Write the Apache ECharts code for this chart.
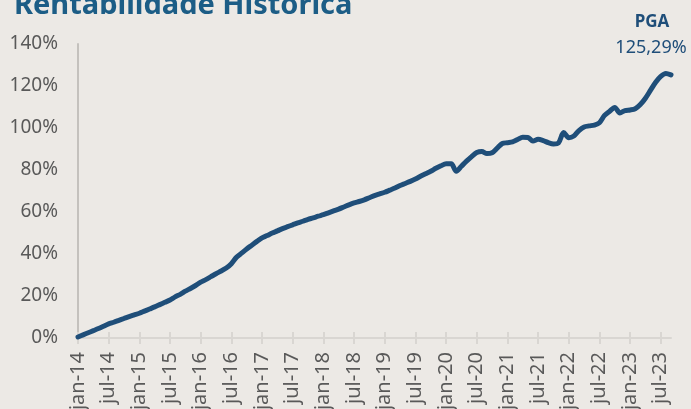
<!DOCTYPE html>
<html>
<head>
<meta charset="utf-8">
<script src="https://cdn.jsdelivr.net/npm/echarts@6/dist/echarts.min.js"></script>
<style>
  html, body { margin: 0; padding: 0; background: #ece9e5; }
  #chart { width: 691px; height: 409px; }
</style>
</head>
<body>
<div id="chart"></div>
<script>
// meses jan-14 .. set-23
var monthNames = ['jan','fev','mar','abr','mai','jun','jul','ago','set','out','nov','dez'];
var startYear = 14;

// rentabilidade acumulada PGA (%)
var pga2014 = [0.5, 1.5, 2.5, 3.5, 4.5, 5.6, 6.7, 7.5, 8.4, 9.3, 10.2, 11.0];
var pga2015 = [11.8, 12.8, 13.8, 14.8, 15.9, 17.0, 18.1, 19.6, 20.8, 22.3, 23.6, 25.0];
var pga2016 = [26.6, 27.8, 29.2, 30.6, 31.9, 33.3, 35.4, 38.4, 40.4, 42.4, 44.2, 46.0];
var pga2017 = [47.7, 48.8, 50.0, 51.0, 52.1, 53.0, 53.9, 54.8, 55.6, 56.5, 57.2, 58.0];
var pga2018 = [58.7, 59.6, 60.5, 61.4, 62.4, 63.4, 64.3, 65.0, 65.8, 66.8, 67.8, 68.6];
var pga2019 = [69.4, 70.4, 71.4, 72.6, 73.6, 74.6, 75.7, 77.0, 78.2, 79.4, 80.8, 82.0];
var pga2020 = [83.0, 83.0, 79.4, 81.8, 84.2, 86.4, 88.3, 88.8, 87.8, 88.2, 90.4, 92.6];
var pga2021 = [93.0, 93.4, 94.5, 95.6, 95.5, 93.8, 94.6, 94.0, 93.0, 92.4, 92.9, 97.8];
var pga2022 = [95.4, 96.2, 98.8, 100.5, 101.0, 101.4, 102.5, 106.0, 108.0, 109.8, 107.2, 108.3];
var pga2023 = [108.6, 109.2, 111.2, 114.2, 118.0, 121.8, 124.6, 126.0, 125.29];

var yTicks = [0, 20, 40, 60, 80, 100, 120, 140];

var pga = [].concat(pga2014, pga2015, pga2016, pga2017, pga2018, pga2019, pga2020, pga2021, pga2022, pga2023);
var months = [];
for (var i = 0; i < pga.length; i++) {
  months.push(monthNames[i % 12] + '-' + (startYear + Math.floor(i / 12)));
}

var chart = echarts.init(document.getElementById('chart'));
var fontFam = 'Noto Sans';
var option = {
  backgroundColor: '#ece9e5',
  animation: false,
  grid: { left: 78, right: 20, top: 44, bottom: 71, containLabel: false, outerBoundsMode: 'none' },
  graphic: [
    { type: 'text', left: 14, top: -9,
      style: { text: 'Rentabilidade Histórica', fontSize: 29, fontWeight: 'bold', fill: '#1c5d86', fontFamily: fontFam } },
    { type: 'text', x: 652, y: 22,
      style: { text: 'PGA', fontSize: 17, fontWeight: 'bold', fill: '#1f4e79', fontFamily: fontFam, align: 'center', verticalAlign: 'middle' } },
    { type: 'text', x: 651, y: 48,
      style: { text: '125,29%', fontSize: 18, fill: '#1f4e79', fontFamily: fontFam, align: 'center', verticalAlign: 'middle' } }
  ],
  xAxis: [{
    type: 'category',
    data: months,
    boundaryGap: false,
    axisLine: { lineStyle: { color: '#d9d6d2', width: 2 } },
    axisTick: { interval: 5, length: 6, lineStyle: { color: '#d9d6d2', width: 2 } },
    axisLabel: { interval: 5, rotate: 90, margin: 14, color: '#595959', fontSize: 20, fontFamily: fontFam }
  }, {
    type: 'category',
    data: months,
    position: 'bottom',
    boundaryGap: false,
    axisLine: { show: false },
    axisTick: { inside: true, interval: 5, length: 6, lineStyle: { color: '#d9d6d2', width: 2 } },
    axisLabel: { show: false }
  }],
  yAxis: {
    type: 'value',
    min: yTicks[0],
    max: yTicks[yTicks.length - 1],
    interval: 20,
    axisLine: { show: true, lineStyle: { color: '#c4c1bd', width: 2 } },
    axisTick: { show: false },
    splitLine: { show: false },
    axisLabel: { formatter: '{value}%', margin: 20, color: '#595959', fontSize: 19, fontFamily: fontFam }
  },
  series: [{
    name: 'PGA',
    type: 'line',
    data: pga,
    showSymbol: false,
    smooth: 0.3,
    lineStyle: { color: '#1f4e79', width: 5, cap: 'round', join: 'round' }
  }]
};
chart.setOption(option);
</script>
</body>
</html>
